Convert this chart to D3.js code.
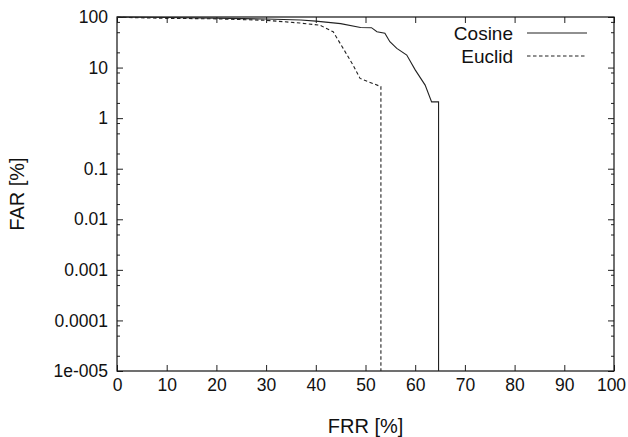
<!DOCTYPE html>
<html>
<head>
<meta charset="utf-8">
<script src="https://cdn.jsdelivr.net/npm/d3@7"></script>
<style>
  body { margin: 0; background: #fff; }
  svg { display: block; font-family: "Liberation Sans", Arial, sans-serif; }
</style>
</head>
<body>
<svg id="chart" width="628" height="437"></svg>
<script>
// values
const cosineFRR = [0, 10, 20, 30, 37, 40, 45, 49, 51.2, 52.3, 53.9, 54.9, 56.3, 58.3, 60, 62, 63.3, 64.7, 64.7];
const cosineFAR = [100, 98, 95, 91, 87, 83, 74, 62, 61.5, 51, 47.6, 32.5, 24, 17.7, 9, 4.5, 2.1, 2.1, 1e-5];
const euclidFRR = [0, 10, 20, 30, 36.8, 40.8, 43.5, 45.5, 47.5, 48.9, 53.1, 53.1];
const euclidFAR = [99, 94, 92, 86, 76, 69, 51, 24, 11.2, 6.1, 4.2, 1e-5];

const xTicks = [0, 10, 20, 30, 40, 50, 60, 70, 80, 90, 100];
const yTicks = [100, 10, 1, 0.1, 0.01, 0.001, 0.0001, 1e-5];
const yTickLabels = ["100", "10", "1", "0.1", "0.01", "0.001", "0.0001", "1e-005"];
const yMinor = [];
yTicks.slice(1).forEach(d => [2, 5, 8].forEach(m => yMinor.push(d * m)));

const seriesNames = ["Cosine", "Euclid"];

const width = 628, height = 437;
const margin = { top: 17, right: 14, bottom: 66, left: 117 };

const svg = d3.select("#chart");

const x = d3.scaleLinear()
  .domain([0, 100])
  .range([margin.left, width - margin.right]);

const y = d3.scaleLog()
  .domain([1e-5, 100])
  .range([height - margin.bottom, margin.top]);

const fontSize = 17.5;

// ticks on all four sides, pointing inward
const xAxisGroup = svg.append("g")
  .attr("transform", `translate(0,${height - margin.bottom})`)
  .call(d3.axisBottom(x).tickValues(xTicks).tickSize(-6).tickPadding(8).tickFormat(d3.format("d")));

svg.append("g")
  .attr("transform", `translate(0,${margin.top})`)
  .call(d3.axisTop(x).tickValues(xTicks).tickSize(-6).tickFormat(""));

svg.append("g")
  .attr("transform", `translate(${margin.left},0)`)
  .call(d3.axisLeft(y).tickValues(yTicks).tickSize(-6).tickPadding(9)
    .tickFormat((d, i) => yTickLabels[i]));

svg.append("g")
  .attr("transform", `translate(${width - margin.right},0)`)
  .call(d3.axisRight(y).tickValues(yTicks).tickSize(-6).tickFormat(""));

svg.append("g")
  .attr("transform", `translate(${margin.left},0)`)
  .call(d3.axisLeft(y).tickValues(yMinor).tickSize(-3).tickFormat(""));

svg.append("g")
  .attr("transform", `translate(${width - margin.right},0)`)
  .call(d3.axisRight(y).tickValues(yMinor).tickSize(-3).tickFormat(""));

svg.selectAll(".domain").remove();
svg.selectAll(".tick line").attr("stroke", "#222");
svg.selectAll(".tick text")
  .attr("fill", "#111")
  .style("font-size", fontSize + "px")
  .style("font-family", "'Liberation Sans', Arial, sans-serif");

// keep the last x label inside the page
xAxisGroup.selectAll(".tick text").filter(d => d === 100).attr("dx", -3);

// frame
svg.append("rect")
  .attr("x", margin.left)
  .attr("y", margin.top)
  .attr("width", width - margin.left - margin.right)
  .attr("height", height - margin.top - margin.bottom)
  .attr("fill", "none")
  .attr("stroke", "#111")
  .attr("stroke-width", 1.2);

// axis titles
svg.append("text")
  .attr("text-anchor", "middle")
  .attr("x", (margin.left + width - margin.right) / 2)
  .attr("y", height - 4)
  .text("FRR [%]")
  .style("font-size", "20px")
  .attr("fill", "#111");

svg.append("text")
  .attr("text-anchor", "middle")
  .attr("transform", "rotate(-90)")
  .attr("x", -(margin.top + height - margin.bottom) / 2)
  .attr("y", 24)
  .text("FAR [%]")
  .style("font-size", "20px")
  .attr("fill", "#111");

// curves
const cosine = cosineFRR.map((d, i) => ({ frr: d, far: cosineFAR[i] }));
const euclid = euclidFRR.map((d, i) => ({ frr: d, far: euclidFAR[i] }));

const line = d3.line()
  .x(d => x(d.frr))
  .y(d => y(d.far));

svg.append("path")
  .datum(cosine)
  .attr("fill", "none")
  .attr("stroke", "#222")
  .attr("stroke-width", 1.1)
  .attr("d", line);

svg.append("path")
  .datum(euclid)
  .attr("fill", "none")
  .attr("stroke", "#222")
  .attr("stroke-width", 1.1)
  .attr("stroke-dasharray", "3.5,2.5")
  .attr("d", line);

// legend
const legend = svg.append("g");
const dashes = [null, "3.5,2.5"];
seriesNames.forEach((name, i) => {
  const ly = 33 + i * 23;
  legend.append("text")
    .attr("x", 513)
    .attr("y", ly)
    .attr("dy", "0.35em")
    .attr("text-anchor", "end")
    .style("font-size", "19px")
    .attr("fill", "#111")
    .text(name);
  legend.append("line")
    .attr("x1", 527)
    .attr("x2", 587)
    .attr("y1", ly)
    .attr("y2", ly)
    .attr("stroke", "#222")
    .attr("stroke-width", 1.1)
    .attr("stroke-dasharray", dashes[i]);
});
</script>
</body>
</html>
